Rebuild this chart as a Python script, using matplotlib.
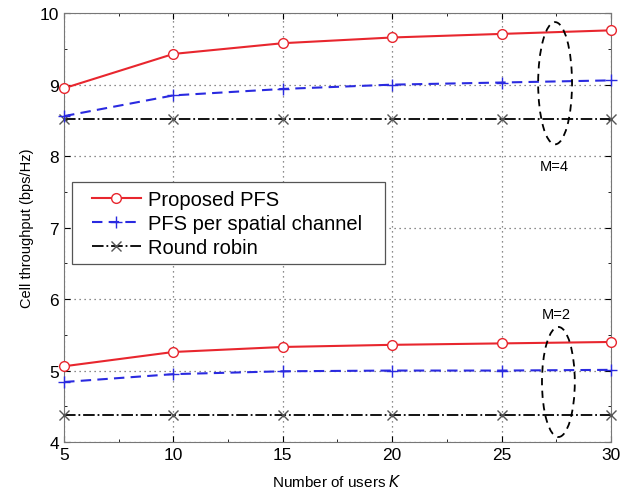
import matplotlib
matplotlib.use("Agg")
import matplotlib.pyplot as plt
from matplotlib.patches import Ellipse, Rectangle
from matplotlib.ticker import MultipleLocator

K = [5, 10, 15, 20, 25, 30]
prop_m4 = [8.95, 9.43, 9.58, 9.66, 9.71, 9.76]
pfs_m4 = [8.56, 8.85, 8.94, 9.00, 9.03, 9.06]
rr_m4 = [8.52, 8.52, 8.52, 8.52, 8.52, 8.52]
prop_m2 = [5.06, 5.26, 5.33, 5.36, 5.38, 5.40]
pfs_m2 = [4.84, 4.95, 4.99, 5.00, 5.00, 5.01]
rr_m2 = [4.38, 4.38, 4.38, 4.38, 4.38, 4.38]

plt.rcParams['font.family'] = ['Liberation Sans', 'DejaVu Sans']
fig = plt.figure(figsize=(6.41, 4.89), dpi=100)
ax = fig.add_axes([0.1, 0.094, 0.853, 0.877])

red = '#e8262e'
blue = '#2a2ae0'
ax.plot(K, prop_m4, '-', color=red, lw=1.5, marker='o', ms=7, mfc='white', mec=red, label='Proposed PFS', clip_on=False, zorder=5)
ax.plot(K, pfs_m4, '--', color=blue, lw=1.5, marker='+', ms=8, mew=1.0, label='PFS per spatial channel', dashes=(5, 3), clip_on=False, zorder=4)
ax.plot(K, rr_m4, '-.', color='black', lw=1.3, marker='x', ms=7, mec='#555555', mew=1.0, label='Round robin', clip_on=False, zorder=3)
ax.plot(K, prop_m2, '-', color=red, lw=1.5, marker='o', ms=7, mfc='white', mec=red, clip_on=False, zorder=5)
ax.plot(K, pfs_m2, '--', color=blue, lw=1.5, marker='+', ms=8, mew=1.0, dashes=(5, 3), clip_on=False, zorder=4)
ax.plot(K, rr_m2, '-.', color='black', lw=1.3, marker='x', ms=7, mec='#555555', mew=1.0, clip_on=False, zorder=3)

ax.add_patch(Ellipse((27.45, 9.02), 1.55, 1.71, fill=False, ls=(0, (4, 3)), lw=1.3, color='black', zorder=6))
ax.add_patch(Ellipse((27.6, 4.84), 1.5, 1.54, fill=False, ls=(0, (4, 3)), lw=1.3, color='black', zorder=6))
ax.text(27.4, 7.86, 'M=4', ha='center', va='center', fontsize=10.5)
ax.text(27.5, 5.79, 'M=2', ha='center', va='center', fontsize=10.5)

ax.set_xlim(5, 30)
ax.set_ylim(4, 10)
ax.xaxis.set_major_locator(MultipleLocator(5))
ax.xaxis.set_minor_locator(MultipleLocator(2.5))
ax.yaxis.set_major_locator(MultipleLocator(1))
ax.yaxis.set_minor_locator(MultipleLocator(0.5))
ax.tick_params(which='both', direction='in', top=True, right=True, labelsize=12.5)
ax.tick_params(which='major', length=4)
ax.tick_params(which='minor', length=2.5)
ax.grid(True, which='major', ls=(0, (1, 3)), color='#666666', lw=0.9)
for s in ax.spines.values():
    s.set_color('#777777')

ax.set_xlabel('Number of users $K$', fontsize=11, labelpad=8)
ax.set_ylabel('Cell throughput (bps/Hz)', fontsize=10.5, labelpad=4)

# legend frame drawn separately (wider horizontal padding than vertical)
ax.add_patch(Rectangle((0.0146, 0.415), 0.572, 0.191, transform=ax.transAxes,
                       facecolor='white', edgecolor='#555555', lw=0.9, zorder=7))
leg = ax.legend(loc='upper left', bbox_to_anchor=(0.0366, 0.606), borderaxespad=0, fontsize=14.5,
                frameon=False, borderpad=0.4,
                handlelength=2.4, handletextpad=0.35, labelspacing=0.25)
leg.set_zorder(8)

fig.savefig('out.png', dpi=100)
